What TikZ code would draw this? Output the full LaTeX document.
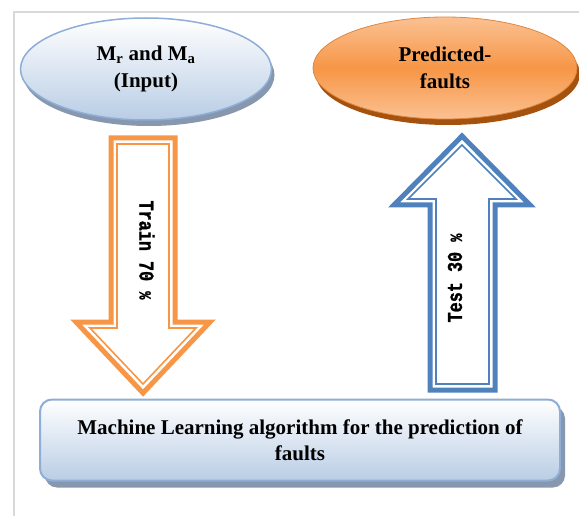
\documentclass[tikz,border=0pt]{standalone}
\usepackage{fontspec}
\setmainfont{Liberation Serif}
\newfontfamily\labelmono[FakeBold=1.5]{Liberation Mono Bold}
\usepackage{graphicx}
\usepackage{tikz}
\usetikzlibrary{shapes.geometric,shadows}

\definecolor{framegray}{HTML}{D9D9D9}
\definecolor{paleblue}{HTML}{B9CDE5}
\definecolor{lineblue}{HTML}{8EAED8}
\definecolor{shadeblue}{HTML}{8797AE}
\definecolor{mainorange}{HTML}{F79646}
\definecolor{lightorange}{HTML}{FAC193}
\definecolor{brownshade}{HTML}{A5520F}
\definecolor{arrowblue}{HTML}{4F81BD}

\begin{document}
\begin{tikzpicture}[x=1pt,y=-1pt,
  bigtext/.style={font=\bfseries\fontsize{21}{27}\selectfont,align=center},
  monotext/.style={font=\labelmono\fontsize{21}{21}\selectfont,inner sep=0},
  outline/.style={line width=5,line join=miter},
  inline/.style={line width=1.6,line join=miter}]
\useasboundingbox (0,0) rectangle (579,516);

\draw[framegray,line width=2] (579,12) -- (14,12) -- (14,516);

% the two ellipses
\node[ellipse,bigtext,minimum width=251,minimum height=102,inner sep=0,
  draw=lineblue,line width=1.5,top color=white,bottom color=paleblue,
  drop shadow={shadow xshift=3pt,shadow yshift=-6pt,fill=shadeblue,opacity=1}]
  (input) at (146,69) {M\textsubscript{r} and M\textsubscript{a}\\(Input)};

\node[ellipse,bigtext,minimum width=264,minimum height=102,inner sep=0,
  draw=mainorange!90!black,line width=0.8,top color=lightorange,bottom color=lightorange,middle color=mainorange,
  drop shadow={shadow xshift=3pt,shadow yshift=-6pt,fill=brownshade,opacity=1}]
  (pred) at (445,68) {Predicted-\\faults};

% train arrow
\fill[white] (111,138) -- (175,138) -- (175,322) -- (210,322) -- (143,393) -- (76,322) -- (111,322) -- cycle;
\draw[mainorange,outline] (111,138) -- (175,138) -- (175,322) -- (210,322) -- (143,393) -- (76,322) -- (111,322) -- cycle;
\draw[mainorange,inline] (117,144) -- (169,144) -- (169,328) -- (196,328) -- (143,384) -- (90,328) -- (117,328) -- cycle;
\node[monotext,rotate=-90] (train) at (147,250) {\scalebox{0.8}[1]{Train 70 {\fontsize{17}{17}\selectfont\%}}};

% test arrow
\fill[white] (430,390) -- (495,390) -- (495,205) -- (530,205) -- (462,136) -- (394,205) -- (430,205) -- cycle;
\draw[arrowblue,outline] (430,390) -- (495,390) -- (495,205) -- (530,205) -- (462,136) -- (394,205) -- (430,205) -- cycle;
\draw[arrowblue,inline] (436,384) -- (489,384) -- (489,199) -- (516,199) -- (462,145) -- (408,199) -- (436,199) -- cycle;
\node[monotext,rotate=90] (test) at (455,278) {\scalebox{0.8}[1]{Test 30 {\fontsize{17}{17}\selectfont\%}}};

% algorithm box
\node[bigtext,font=\bfseries\fontsize{21}{26}\selectfont,minimum width=520,minimum height=81,
  rounded corners=12,draw=lineblue,line width=2,top color=white,bottom color=paleblue,
  drop shadow={shadow xshift=5pt,shadow yshift=-7pt,fill=shadeblue,opacity=1}]
  (algo) at (300,440) {Machine Learning algorithm for the prediction of\\faults};
\end{tikzpicture}
\end{document}
